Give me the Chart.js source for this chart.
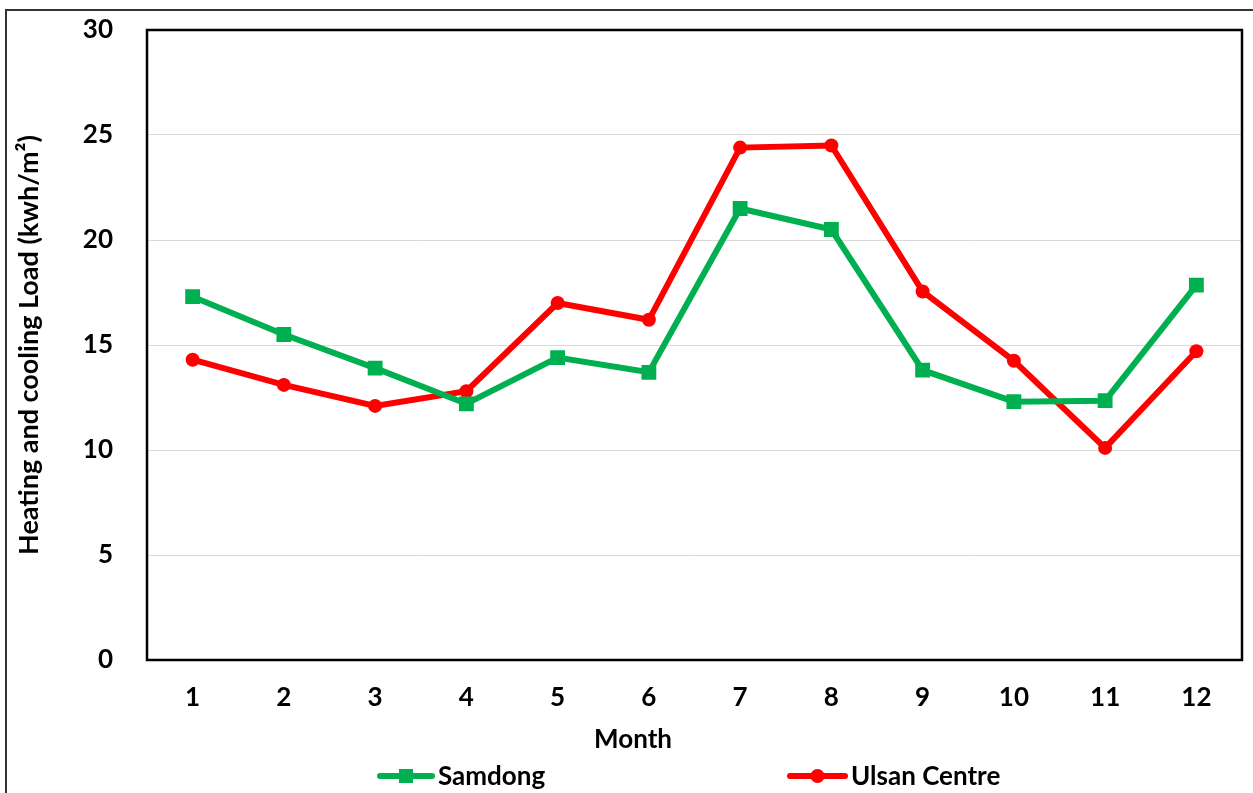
<!DOCTYPE html>
<html>
<head>
<meta charset="utf-8">
<script src="https://cdn.jsdelivr.net/npm/chart.js@4.4.1/dist/chart.umd.min.js"></script>
<style>
  html, body { margin: 0; padding: 0; background: #ffffff; }
  #wrap { position: relative; width: 1253px; height: 793px; overflow: hidden; }
  #frame { position: absolute; left: 5px; top: 9px; width: 1400px; height: 900px;
           border-left: 2px solid #333; border-top: 2px solid #333; }
  canvas { position: absolute; left: 0; top: 0; }
</style>
</head>
<body>
<div id="wrap">
  <div id="frame"></div>
  <canvas id="chart" width="1253" height="793"></canvas>
</div>
<script>
// Monthly heating and cooling load (kWh/m²)
const months = ['1', '2', '3', '4', '5', '6', '7', '8', '9', '10', '11', '12'];
const samdong = [17.3, 15.5, 13.9, 12.2, 14.4, 13.7, 21.5, 20.5, 13.8, 12.3, 12.35, 17.85];
const ulsanCentre = [14.3, 13.1, 12.1, 12.8, 17.0, 16.2, 24.4, 24.5, 17.55, 14.25, 10.1, 14.7];

const GREEN = '#00B050';
const RED = '#FF0000';
const FONT = 'Lato';
const xTitle = 'Month';
const yTitle = 'Heating and cooling Load (kwh/m²)';

// Black frame round the plotting area
const plotFrame = {
  id: 'plotFrame',
  afterDatasetsDraw(chart) {
    const { ctx, chartArea: a } = chart;
    ctx.save();
    ctx.strokeStyle = '#000';
    ctx.lineWidth = 2.5;
    ctx.strokeRect(a.left, a.top, a.right - a.left, a.bottom - a.top);
    ctx.restore();
  }
};

// Category axis title and a legend with line-and-marker swatches,
// centred on the whole figure rather than on the plotting area
const bottomTexts = {
  id: 'bottomTexts',
  afterDraw(chart) {
    const { ctx } = chart;
    ctx.save();
    ctx.fillStyle = '#000';
    ctx.font = 'bold 26px ' + FONT;
    ctx.textBaseline = 'middle';
    ctx.textAlign = 'center';
    ctx.fillText(xTitle, 633, 740);

    const y = 776;
    const items = [
      { ds: chart.data.datasets[0], x0: 380, x1: 432 },
      { ds: chart.data.datasets[1], x0: 790, x1: 845 }
    ];
    items.forEach(({ ds, x0, x1 }) => {
      ctx.strokeStyle = ds.borderColor;
      ctx.lineWidth = 6;
      ctx.lineCap = 'round';
      ctx.beginPath();
      ctx.moveTo(x0, y);
      ctx.lineTo(x1, y);
      ctx.stroke();
      ctx.fillStyle = ds.borderColor;
      const cx = (x0 + x1) / 2;
      if (ds.pointStyle === 'rect') {
        ctx.fillRect(cx - 7, y - 7, 14, 14);
      } else {
        ctx.beginPath();
        ctx.arc(cx, y, 7, 0, Math.PI * 2);
        ctx.fill();
      }
      ctx.fillStyle = '#000';
      ctx.textAlign = 'left';
      ctx.fillText(ds.label, x1 + 6, y + 1);
    });
    ctx.restore();
  }
};

new Chart(document.getElementById('chart'), {
  type: 'line',
  data: {
    labels: months,
    datasets: [
      {
        label: 'Samdong',
        data: samdong,
        borderColor: GREEN,
        backgroundColor: GREEN,
        borderWidth: 6,
        pointStyle: 'rect',
        pointRadius: 10.5,
        pointHoverRadius: 10.5,
        pointBorderWidth: 0,
        tension: 0
      },
      {
        label: 'Ulsan Centre',
        data: ulsanCentre,
        borderColor: RED,
        backgroundColor: RED,
        borderWidth: 6,
        pointStyle: 'circle',
        pointRadius: 7,
        pointHoverRadius: 7,
        pointBorderWidth: 0,
        tension: 0
      }
    ]
  },
  options: {
    responsive: false,
    animation: false,
    layout: { padding: { left: 0, top: 30, right: 11, bottom: 37 } },
    plugins: {
      legend: { display: false },
      tooltip: { enabled: false }
    },
    scales: {
      x: {
        offset: true,
        grid: { display: false, drawTicks: false },
        border: { display: false },
        ticks: { color: '#000', padding: 22, font: { family: FONT, size: 26, weight: 'bold' } },
        afterFit(scale) {
          scale.height = 96;
          scale.paddingLeft = 0; scale.paddingRight = 0;
        }
      },
      y: {
        min: 0,
        max: 30,
        ticks: { stepSize: 5, color: '#000', padding: 34, font: { family: FONT, size: 26, weight: 'bold' } },
        grid: {
          drawTicks: false,
          lineWidth: 1,
          color: (c) => (c.tick && (c.tick.value === 0 || c.tick.value === 30)) ? 'rgba(0,0,0,0)' : '#D9D9D9'
        },
        border: { display: false },
        title: {
          display: true, text: yTitle, color: '#000',
          padding: { top: 13, bottom: 0 },
          font: { family: FONT, size: 27, weight: 'bold' }
        },
        afterFit(scale) {
          scale.width = 147;
          scale.paddingTop = 0; scale.paddingBottom = 0;
        }
      }
    }
  },
  plugins: [plotFrame, bottomTexts]
});
</script>
</body>
</html>
